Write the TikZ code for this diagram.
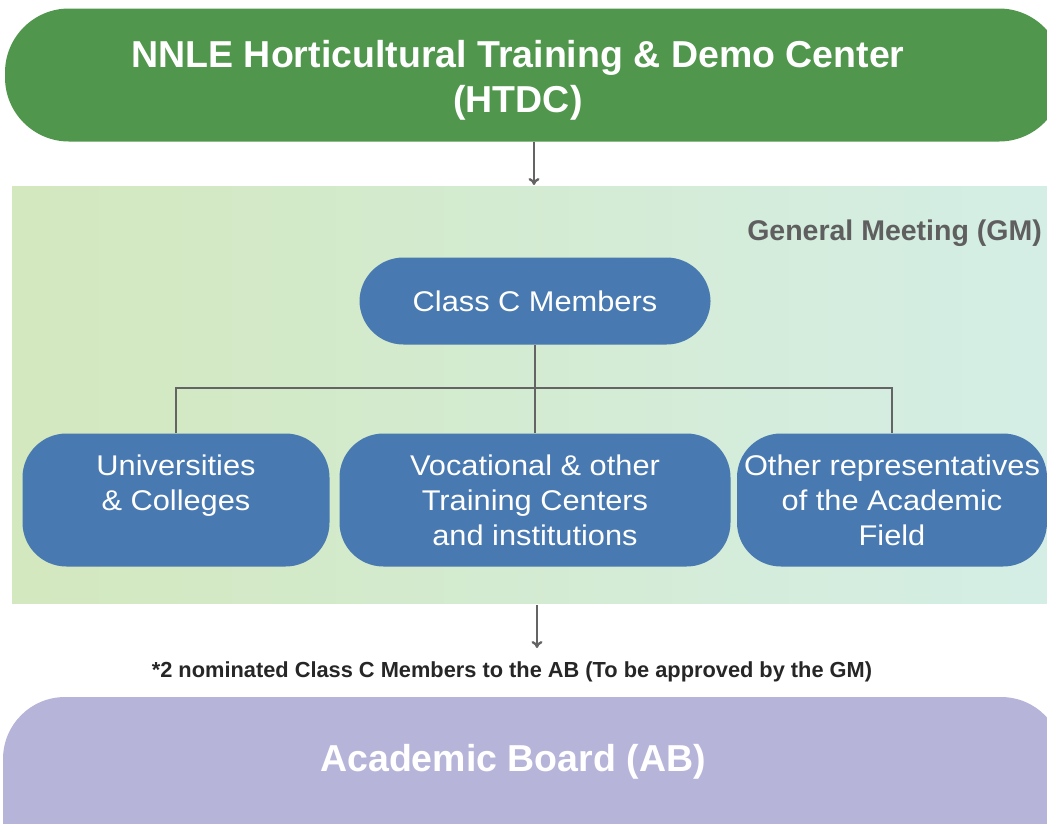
\documentclass[tikz,border=0pt]{standalone}
\usepackage{fontspec}
\setmainfont{Liberation Sans}
\newfontfamily\widefont[FakeStretch=1.08]{Liberation Sans}
\usetikzlibrary{arrows.meta,positioning}
\definecolor{htdcgreen}{RGB}{80,150,76}
\definecolor{classblue}{RGB}{72,121,176}
\definecolor{boardpurple}{RGB}{183,180,218}
\definecolor{bandleft}{RGB}{211,232,190}
\definecolor{bandright}{RGB}{212,238,230}
\definecolor{linkgray}{RGB}{100,100,100}
\definecolor{gmgray}{RGB}{95,95,95}

\begin{document}
\begin{tikzpicture}[x=1pt,y=-1pt]
                \tikzstyle{every node}+=[inner sep=0pt]
                \tikzstyle{member}=[fill=classblue, text=white, align=center, font=\widefont\fontsize{28.5}{35}\selectfont, rounded corners=44pt]
                \tikzstyle{banner}=[text=white, align=center, font=\bfseries\fontsize{37.5}{45}\selectfont]
                \tikzstyle{link}=[draw=linkgray, line width=2.3pt]
                \tikzstyle{flow}=[link, -{To[length=7pt,width=11pt]}]
                \useasboundingbox (0,0) rectangle (1047,823);
                \clip (0,0) rectangle (1047,823);
                \shade [left color=bandleft, right color=bandright] (12,186) rectangle (1047,603);
                \fill [boardpurple, rounded corners=62pt] (3,697) rectangle (1063,900);
                \node [fill=htdcgreen, rounded corners=64pt, minimum width=1058pt, minimum height=133pt] (htdc) at (534,75) {};
                \node [banner] (htdctitle) at (518,80) {NNLE Horticultural Training \& Demo Center\\(HTDC)};
                \node [text=gmgray, font=\bfseries\fontsize{28.5}{32}\selectfont, anchor=east] (gm) at (1042,233) {General Meeting (GM)};
                \node [member, minimum width=351pt, minimum height=87pt] (classc) at (535,301) {Class C Members};
                \node [member, minimum width=307pt, minimum height=133pt] (univ) at (176,500) {Universities\\\& Colleges\\\mbox{}};
                \node [member, minimum width=391pt, minimum height=133pt] (voc) at (535,500) {Vocational \& other\\Training Centers\\and institutions};
                \node [member, minimum width=310pt, minimum height=133pt] (field) at (892,500) {Other representatives\\of the Academic\\Field};
                \node [text=black!85, font=\bfseries\fontsize{21.8}{25}\selectfont] (note) at (512,672) {*2 nominated Class C Members to the AB (To be approved by the GM)};
                \node [banner] (board) at (513,762) {Academic Board (AB)};
                \coordinate (bandtop) at (534,185);
                \coordinate (bandbot) at (537,605);
                \coordinate (notetop) at (537,648);
                \draw [flow] (htdc.south) -- (bandtop);
                \draw [link] (classc.south) -- ++(0,43) coordinate (split);
                \draw [link] (univ.north) |- (split) -| (field.north);
                \draw [link] (split) -- (voc.north);
                \draw [flow] (bandbot) -- (notetop);
\end{tikzpicture}
\end{document}
